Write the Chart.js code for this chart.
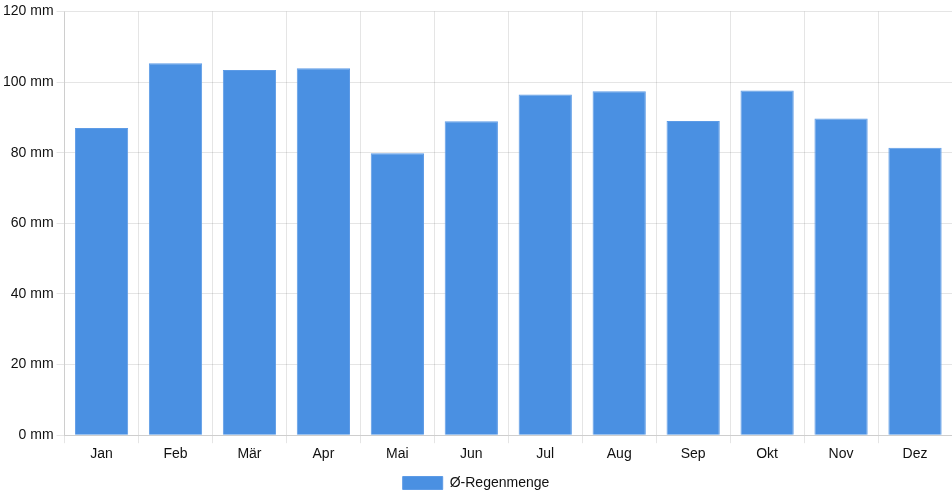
<!DOCTYPE html>
<html>
<head>
<meta charset="utf-8">
<script src="https://cdn.jsdelivr.net/npm/chart.js@4/dist/chart.umd.min.js"></script>
<style>
  html, body { margin: 0; padding: 0; background: #fff; }
  #wrap { width: 952px; height: 500px; }
</style>
</head>
<body>
<div id="wrap"><canvas id="myChart"></canvas></div>
<script>
// Monatsnamen und mittlere Regenmenge (mm)
const monate = ['Jan', 'Feb', 'Mär', 'Apr', 'Mai', 'Jun', 'Jul', 'Aug', 'Sep', 'Okt', 'Nov', 'Dez'];
const regenmenge = [87, 105.3, 103.4, 103.9, 79.8, 88.9, 96.5, 97.4, 89, 97.6, 89.7, 81.4];
const yTicks = [0, 20, 40, 60, 80, 100, 120];

Chart.defaults.font.family = '"Liberation Sans", Arial, sans-serif';
Chart.defaults.font.size = 14;
Chart.defaults.color = '#111';

const ctx = document.getElementById('myChart').getContext('2d');
new Chart(ctx, {
  type: 'bar',
  data: {
    labels: monate,
    datasets: [{
      label: 'Ø-Regenmenge',
      data: regenmenge,
      backgroundColor: '#4a90e2',
      borderColor: '#5d9be6',
      borderWidth: 1
    }]
  },
  options: {
    responsive: true,
    maintainAspectRatio: false,
    animation: false,
    layout: { padding: { top: 4, right: 0 } },
    plugins: {
      legend: {
        position: 'bottom',
        labels: { boxWidth: 40, boxHeight: 13 }
      },
      tooltip: { enabled: false }
    },
    scales: {
      x: {
        grid: { color: 'rgba(0,0,0,0.1)' }
      },
      y: {
        min: 0,
        max: 120,
        afterBuildTicks: axis => { axis.ticks = yTicks.map(v => ({ value: v })); },
        ticks: { callback: v => v + ' mm' },
        grid: { color: 'rgba(0,0,0,0.1)' }
      }
    }
  }
});
</script>
</body>
</html>
